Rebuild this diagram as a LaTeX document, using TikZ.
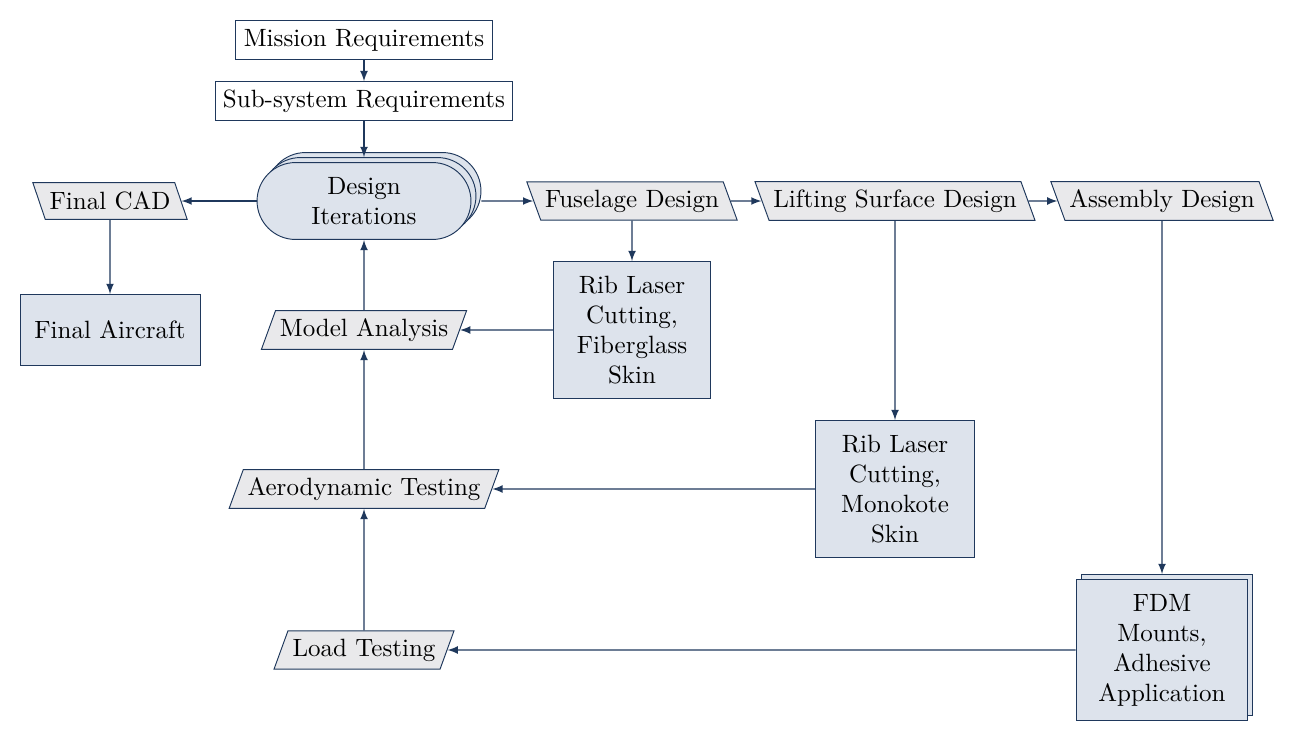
\documentclass[tikz,border=0pt]{standalone}
\usetikzlibrary{shapes.geometric,shapes.misc,shadows}
\definecolor{navy}{RGB}{31,56,92}
\definecolor{boxfill}{RGB}{221,227,236}
\definecolor{iofill}{RGB}{233,233,235}
\tikzset{
  req/.style={draw=navy, fill=white, minimum height=16pt},
  proc/.style={draw=navy, fill=boxfill, align=center},
  datal/.style={trapezium, trapezium left angle=70, trapezium right angle=110,
    trapezium stretches body, inner xsep=1.8pt, draw=navy, fill=iofill, minimum height=16pt},
  datar/.style={trapezium, trapezium left angle=110, trapezium right angle=70,
    trapezium stretches body, inner xsep=1.8pt, draw=navy, fill=iofill, minimum height=15.5pt},
  flow/.style={draw=navy, line width=0.5pt, -latex},
}
\begin{document}
\begin{tikzpicture}[x=0.42pt, y=-0.42pt, font=\fontsize{10.5pt}{12.6pt}\selectfont]
    \useasboundingbox (0,0) rectangle (1293,740);
    \node[req, minimum width=107.5pt] (mission) at (364,40) {Mission Requirements};
    \node[req, minimum width=125pt] (subsys) at (364,101) {Sub-system Requirements};
    \node[proc, rounded rectangle, minimum width=96.5pt, minimum height=32.3pt,
        double copy shadow={shadow xshift=2.1pt, shadow yshift=2.1pt, draw=navy, fill=boxfill}]
        (design) at (364,201) {Design\\Iterations};
    \node[datar, minimum width=64.7pt] (fcad) at (110,201) {Final CAD};
    \node[proc, minimum width=75.6pt, minimum height=29.8pt] (aircraft) at (110,330) {Final Aircraft};
    \node[datar, minimum width=86pt] (fuselage) at (632,201) {Fuselage Design};
    \node[datar, minimum width=117.6pt] (lifting) at (895,201) {Lifting Surface Design};
    \node[datar, minimum width=90.7pt] (assembly) at (1162,201) {Assembly Design};
    \node[proc, minimum width=66pt, minimum height=57.5pt] (ribglass) at (632,330) {Rib Laser\\Cutting,\\Fiberglass\\Skin};
    \node[proc, minimum width=66.4pt, minimum height=57.5pt] (ribkote) at (895,489) {Rib Laser\\Cutting,\\Monokote\\Skin};
    \node[proc, minimum width=72.2pt, minimum height=59.2pt,
        copy shadow={shadow xshift=2.1pt, shadow yshift=2.1pt, draw=navy, fill=boxfill}]
        (fdm) at (1162,650) {FDM\\Mounts,\\Adhesive\\Application};
    \node[datal, minimum width=85.7pt] (model) at (364,330) {Model Analysis};
    \node[datal, minimum width=113pt] (aero) at (364,489) {Aerodynamic Testing};
    \node[datal, minimum width=75.6pt] (load) at (364,650) {Load Testing};
    \draw[flow] (mission) -- (subsys);
    \draw[flow] (subsys) -- ([yshift=2.1pt]design.north);
    \draw[flow] (design) -- (fcad);
    \draw[flow] (fcad) -- (aircraft);
    \draw[flow] ([xshift=4.2pt]design.east) -- (fuselage);
    \draw[flow] (fuselage) -- (lifting);
    \draw[flow] (lifting) -- (assembly);
    \draw[flow] (fuselage) -- (ribglass);
    \draw[flow] (ribglass) -- (model);
    \draw[flow] (model) -- (design);
    \draw[flow] (lifting) -- (ribkote);
    \draw[flow] (ribkote) -- (aero);
    \draw[flow] (aero) -- (model);
    \draw[flow] (assembly) -- ([yshift=2.1pt]fdm.north);
    \draw[flow] (fdm) -- (load);
    \draw[flow] (load) -- (aero);
\end{tikzpicture}
\end{document}
